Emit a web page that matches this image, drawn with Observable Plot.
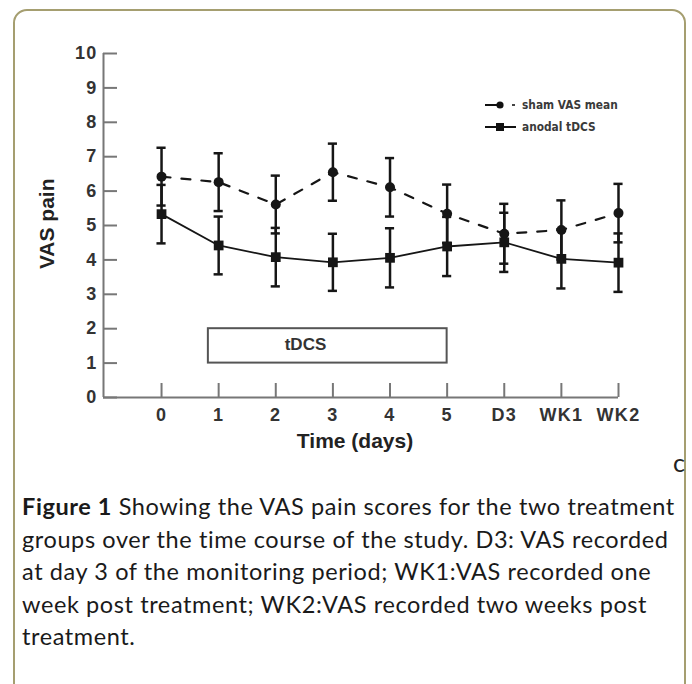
<!DOCTYPE html>
<html><head><meta charset="utf-8">
<script src="https://cdn.jsdelivr.net/npm/d3@7"></script>
<script src="https://cdn.jsdelivr.net/npm/@observablehq/plot@0.6"></script>
<style>
html,body{margin:0;padding:0;background:#fff;width:692px;height:684px;overflow:hidden;}
#frame{position:absolute;left:13px;top:9px;width:673px;height:720px;border:2px solid #a59e70;border-radius:14px;box-sizing:border-box;}
#chart{position:absolute;left:0;top:0;}
#chart g[aria-label="y-axis tick label"] text,
#chart g[aria-label="x-axis tick label"] text{font-size:18px !important;font-weight:bold;letter-spacing:1.3px;}
#legend{position:absolute;left:484px;top:94px;font-family:"Liberation Sans Narrow","DejaVu Sans Condensed","Liberation Sans",sans-serif;font-size:11.8px;font-weight:bold;color:#3a3a3a;}
#legend .row{display:flex;align-items:center;height:22px;}
#legend svg{margin-right:4px;}
#corner{position:absolute;left:673px;top:447px;font-family:Lato,"Open Sans",sans-serif;font-size:25px;color:#222;}
#caption{position:absolute;left:22px;top:490px;font-family:Lato,"Open Sans",sans-serif;font-size:23.5px;letter-spacing:0.6px;line-height:32.5px;color:#1a1a1a;white-space:nowrap;}
</style></head>
<body>
<div id="frame"></div>
<div id="chart"></div>
<div id="legend">
  <div class="row"><svg width="34" height="14"><line x1="1" y1="7" x2="16" y2="7" stroke="#111" stroke-width="2"/><circle cx="16" cy="7" r="3.6" fill="#111"/><line x1="28" y1="7" x2="31" y2="7" stroke="#444" stroke-width="2"/></svg><span>sham VAS mean</span></div>
  <div class="row"><svg width="34" height="14"><line x1="1" y1="7" x2="32" y2="7" stroke="#111" stroke-width="2"/><rect x="12" y="3" width="8" height="8" fill="#111"/></svg><span>anodal tDCS</span></div>
</div>
<div id="corner">c</div>
<div id="caption"><b>Figure 1</b> Showing the VAS pain scores for the two treatment<br>groups over the time course of the study. D3: VAS recorded<br>at day 3 of the monitoring period; WK1:VAS recorded one<br>week post treatment; WK2:VAS recorded two weeks post<br>treatment.</div>
<script>
const labels = ["0","1","2","3","4","5","D3","WK1","WK2"];
const shamMean = [6.42, 6.26, 5.61, 6.55, 6.11, 5.34, 4.76, 4.87, 5.36];
const shamErr  = [0.84, 0.84, 0.84, 0.83, 0.85, 0.85, 0.87, 0.86, 0.85];
const tdcsMean = [5.33, 4.42, 4.08, 3.93, 4.06, 4.39, 4.51, 4.03, 3.92];
const tdcsErr  = [0.85, 0.84, 0.85, 0.83, 0.86, 0.86, 0.86, 0.86, 0.85];
const yTicks = [0,1,2,3,4,5,6,7,8,9,10];
const tdcsPeriod = {start: 0.82, end: 5, low: 1, high: 2, label: "tDCS"};

const idx = labels.map((d, i) => i);
const sham = idx.map(i => ({i, mean: shamMean[i], lo: shamMean[i] - shamErr[i], hi: shamMean[i] + shamErr[i]}));
const tdcs = idx.map(i => ({i, mean: tdcsMean[i], lo: tdcsMean[i] - tdcsErr[i], hi: tdcsMean[i] + tdcsErr[i]}));
const caps = [...sham, ...tdcs].flatMap(d => [{i: d.i, v: d.lo}, {i: d.i, v: d.hi}]);

const xMin = -1.016, xMax = 8;
const capHalf = 0.08;
const ink = "#161616";

const chart = Plot.plot({
  width: 692, height: 480,
  marginLeft: 103, marginRight: 74, marginTop: 53, marginBottom: 83,
  x: {domain: [xMin, xMax]},
  y: {domain: [0, 10]},
  style: {fontFamily: "'Liberation Sans', Arial, sans-serif", background: "transparent", overflow: "visible"},
  marks: [
    Plot.ruleX([xMin], {y1: 0, y2: 10, stroke: "#777", strokeWidth: 2}),
    Plot.ruleY([0], {x1: xMin, x2: xMax, stroke: "#777", strokeWidth: 2}),
    Plot.axisY({ticks: yTicks, tickSize: 14, dx: 14, tickFormat: () => "", label: null, stroke: "#777", strokeWidth: 2}),
    Plot.axisY({ticks: yTicks, tickSize: 0, tickPadding: 6, label: null, fontSize: 18, fontWeight: "bold", fill: "#333"}),
    Plot.axisX({ticks: idx, tickSize: 14, dy: -14, tickFormat: () => "", label: null, stroke: "#777", strokeWidth: 2}),
    Plot.axisX({ticks: idx, tickSize: 0, tickPadding: 11, tickFormat: i => labels[i], label: null, fontSize: 18, fontWeight: "bold", fill: "#333"}),
    Plot.rect([tdcsPeriod], {x1: "start", x2: "end", y1: "low", y2: "high", fill: "none", stroke: "#555", strokeWidth: 2}),
    Plot.text([tdcsPeriod], {x: d => 2.52, y: d => 1.55, text: "label", fontSize: 17, fontWeight: "bold", fill: "#333", letterSpacing: 1}),
    Plot.ruleX([...sham, ...tdcs], {x: "i", y1: "lo", y2: "hi", stroke: ink, strokeWidth: 2.5}),
    Plot.ruleY(caps, {y: "v", x1: d => d.i - capHalf, x2: d => d.i + capHalf, stroke: ink, strokeWidth: 2.5}),
    Plot.line(sham, {x: "i", y: "mean", stroke: ink, strokeWidth: 2.2, strokeDasharray: "9,11"}),
    Plot.line(tdcs, {x: "i", y: "mean", stroke: ink, strokeWidth: 1.8}),
    Plot.dot(sham, {x: "i", y: "mean", r: 5, fill: ink}),
    Plot.dot(tdcs, {x: "i", y: "mean", r: 5.5, symbol: "square", fill: ink}),
    Plot.text(["VAS pain"], {x: d => xMin, y: d => 5.05, rotate: -90, dx: -56, fontSize: 21, fontWeight: "bold", fill: "#222"}),
    Plot.text(["Time (days)"], {frameAnchor: "bottom", dx: -6, dy: 50, fontSize: 21, fontWeight: "bold", fill: "#222"})
  ]
});
document.getElementById("chart").appendChild(chart);
</script>
</body></html>
